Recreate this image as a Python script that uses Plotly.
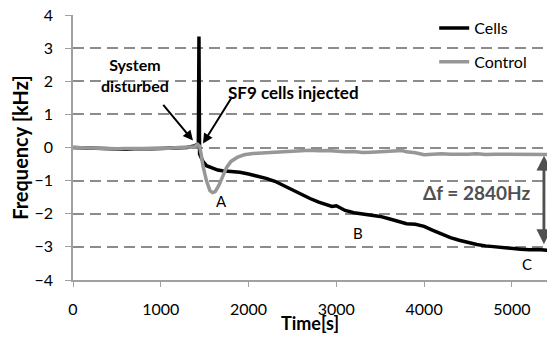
import plotly.graph_objects as go

# Cells (black) trace
cells_t = [0, 100, 200, 300, 400, 500, 600, 700, 800, 900, 1000, 1100, 1200, 1300, 1380, 1420,
           1428, 1435, 1442, 1460, 1480, 1520, 1580, 1650, 1700, 1800, 1900, 2000, 2100, 2200,
           2300, 2400, 2500, 2600, 2700, 2800, 2900, 2950, 3000, 3050, 3100, 3200, 3300, 3400,
           3500, 3600, 3700, 3800, 3900, 4000, 4100, 4200, 4300, 4400, 4500, 4600, 4700, 4800,
           4900, 5000, 5100, 5200, 5300, 5400, 5500]
cells_f = [0.0, -0.01, -0.02, -0.03, -0.04, -0.06, -0.05, -0.04, -0.05, -0.04, -0.03, -0.02, -0.01,
           0.0, 0.05, 0.08, 0.1, 3.35, -0.2, -0.3, -0.42, -0.55, -0.62, -0.68, -0.7, -0.72, -0.75,
           -0.8, -0.86, -0.93, -1.02, -1.15, -1.28, -1.42, -1.54, -1.65, -1.75, -1.78, -1.76, -1.82,
           -1.9, -1.97, -2.0, -2.03, -2.08, -2.15, -2.22, -2.3, -2.32, -2.38, -2.5, -2.62, -2.72,
           -2.8, -2.87, -2.93, -2.97, -3.0, -3.02, -3.04, -3.07, -3.09, -3.08, -3.1, -3.12]

# Control (gray) trace
control_t = [0, 100, 200, 300, 400, 500, 600, 700, 800, 900, 1000, 1100, 1200, 1300, 1380, 1420,
             1440, 1460, 1480, 1520, 1560, 1590, 1620, 1660, 1700, 1750, 1800, 1870, 1950, 2050,
             2200, 2400, 2600, 2700, 2800, 2900, 3000, 3100, 3200, 3300, 3400, 3500, 3600, 3700,
             3750, 3800, 3900, 4000, 4100, 4200, 4300, 4400, 4500, 4600, 4700, 4800, 4900, 5000,
             5100, 5200, 5300, 5400, 5500]
control_f = [0.0, -0.01, 0.0, -0.02, -0.03, -0.04, -0.03, -0.04, -0.03, -0.02, -0.03, -0.02, 0.0,
             0.0, 0.02, 0.1, 0.05, -0.2, -0.55, -1.0, -1.3, -1.36, -1.33, -1.15, -0.9, -0.6, -0.42,
             -0.3, -0.22, -0.18, -0.16, -0.14, -0.1, -0.08, -0.1, -0.09, -0.11, -0.13, -0.12, -0.15,
             -0.14, -0.12, -0.1, -0.08, -0.09, -0.13, -0.16, -0.22, -0.2, -0.19, -0.2, -0.21, -0.2,
             -0.19, -0.21, -0.2, -0.2, -0.21, -0.2, -0.2, -0.21, -0.2, -0.21]

x_ticks = [0, 1000, 2000, 3000, 4000, 5000]
y_ticks = [-4, -3, -2, -1, 0, 1, 2, 3, 4]

# Δf marker: time and the two frequency ends
delta_t = 5365
delta_top = -0.2
delta_bottom = -2.92

FONT = "Lato"

fig = go.Figure()
fig.add_trace(go.Scatter(x=cells_t, y=cells_f, mode="lines", name="Cells",
                         line=dict(color="black", width=3.5), legendgroup="a"))
fig.add_trace(go.Scatter(x=control_t, y=control_f, mode="lines", name="Control",
                         line=dict(color="#979797", width=3.5), legendgroup="b"))

# Delta f double arrow: shaft as a shape, heads from an annotation
fig.add_shape(type="line", xref="x", yref="y", x0=delta_t, x1=delta_t,
              y0=delta_top - 0.15, y1=delta_bottom + 0.15,
              line=dict(color="#505050", width=2.5))
fig.add_annotation(x=delta_t, y=delta_bottom, ax=delta_t + 1, ay=delta_top, xref="x", yref="y",
                   axref="x", ayref="y", showarrow=True, arrowhead=2, arrowside="end+start",
                   arrowsize=1.2, arrowwidth=2.5, arrowcolor="#505050", text="")
fig.add_annotation(x=4600, y=-1.36, xref="x", yref="y", text="<b>Δf = 2840Hz</b>",
                   showarrow=False, font=dict(family=FONT, size=19, color="#505050"))

# System disturbed
fig.add_annotation(x=1367, y=0.21, ax=1014, ay=1.33, xref="x", yref="y", axref="x", ayref="y",
                   showarrow=True, arrowhead=2, arrowsize=1, arrowwidth=2, arrowcolor="black",
                   text="")
fig.add_annotation(x=706, y=2.2, xref="x", yref="y", text="<b>System<br>disturbed</b>",
                   showarrow=False, font=dict(family=FONT, size=16, color="black"))

# SF9 cells injected
fig.add_annotation(x=1481, y=0.12, ax=1822, ay=1.57, xref="x", yref="y", axref="x", ayref="y",
                   showarrow=True, arrowhead=2, arrowsize=1, arrowwidth=2, arrowcolor="black",
                   text="")
fig.add_annotation(x=2513, y=1.66, xref="x", yref="y", text="<b>SF9 cells injected</b>",
                   showarrow=False, font=dict(family=FONT, size=17, color="black"))

# Point labels
for lab, tx, fy in [("A", 1697, -1.6), ("B", 3246, -2.57), ("C", 5170, -3.53)]:
    fig.add_annotation(x=tx, y=fy, xref="x", yref="y", text=lab, showarrow=False,
                       font=dict(family=FONT, size=15, color="black"))

# the page body has an 8px margin on every side, so the figure is sized to fit inside it
fig.update_layout(
    width=539, height=326,
    margin=dict(l=65, r=0, t=7, b=54),
    paper_bgcolor="white", plot_bgcolor="white",
    font=dict(family=FONT, size=16, color="black"),
    showlegend=True,
    legend=dict(x=0.762, y=1.015, xanchor="left", yanchor="top", bgcolor="rgba(0,0,0,0)",
                tracegroupgap=10, font=dict(family=FONT, size=16)),
    xaxis=dict(range=[0, 5400], tickvals=x_ticks, showgrid=False, zeroline=False,
               showline=True, linecolor="#a0a0a0", linewidth=1.5, ticks="outside",
               tickcolor="#a0a0a0", ticklen=5, ticklabelstandoff=9, automargin=False,
               title=dict(text="<b>Time[s]</b>", standoff=6, font=dict(family=FONT, size=18))),
    yaxis=dict(range=[-4, 4], tickvals=y_ticks, showgrid=True, gridcolor="#8c8c8c",
               griddash="11px,6px", gridwidth=2, zeroline=False, automargin=False,
               showline=True, linecolor="#a0a0a0", linewidth=1.5, ticks="outside",
               tickcolor="#a0a0a0", ticklen=6, ticklabelstandoff=9, ticklabeloverflow="allow",
               title=dict(text="<b>Frequency [kHz]</b>", standoff=17, font=dict(family=FONT, size=20))),
)

fig.write_html("out.html")
